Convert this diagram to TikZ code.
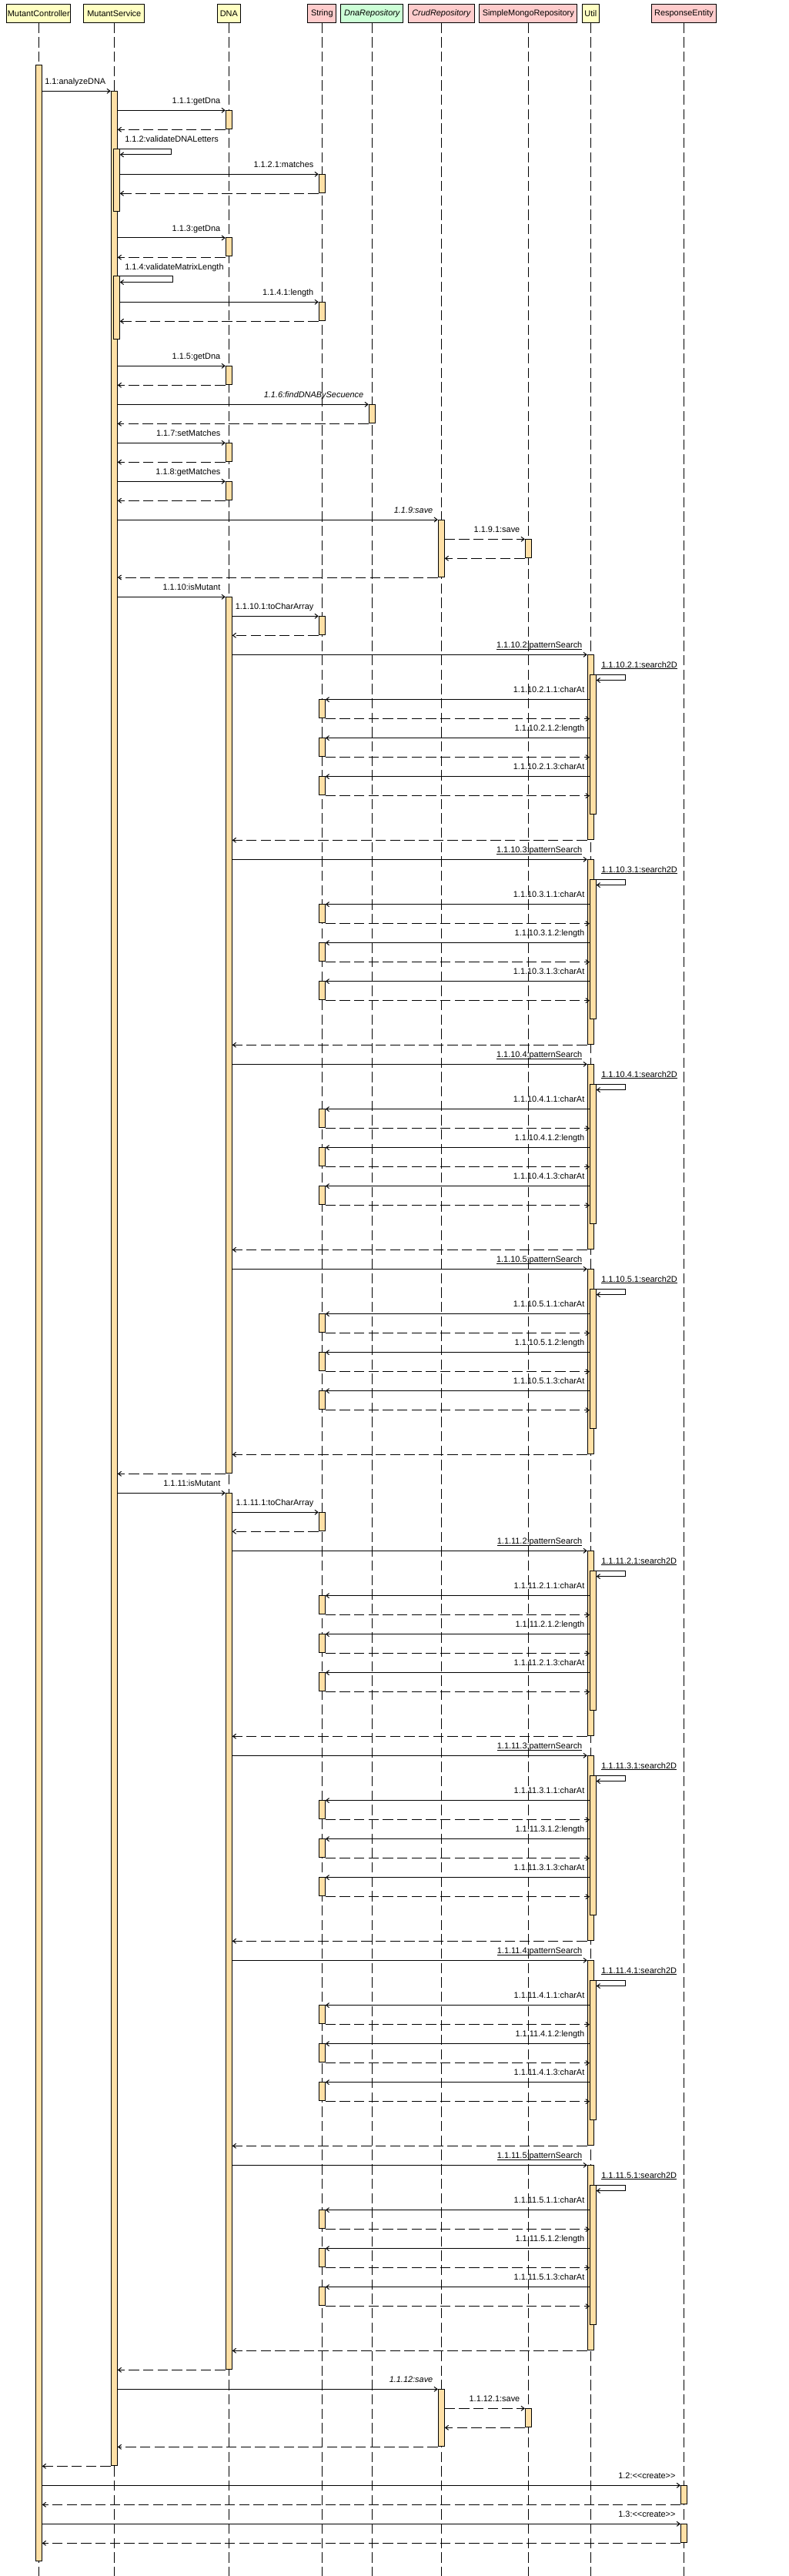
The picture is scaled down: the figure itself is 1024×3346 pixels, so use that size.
\documentclass[tikz,border=0pt]{standalone}
\usepackage{fontspec}
\setmainfont{Liberation Sans}
\usetikzlibrary{arrows.meta}

\definecolor{classyellow}{RGB}{255,255,194}
\definecolor{classpink}{RGB}{255,204,204}
\definecolor{classgreen}{RGB}{204,255,214}
\definecolor{actorange}{RGB}{255,224,166}

\tikzset{
  lane/.style={
    draw,
    fill=classyellow,
    minimum height=18pt,
    inner sep=0pt,
    font=\fontsize{8.2}{10}\selectfont
  },
  lifeline/.style={dash pattern=on 10pt off 4pt},
  activation/.style={draw, fill=actorange, minimum width=6pt, inner sep=0pt},
  callarrow/.style={-{Straight Barb[length=3pt,width=4.5pt]}},
  replyarrow/.style={callarrow, dash pattern=on 10pt off 4pt},
  msg/.style={font=\fontsize{8.2}{10}\selectfont, inner sep=0pt}
}

% activation bar: name, x, top, bottom
\newcommand{\actbar}[4]{\node[activation, minimum height={(#4-#3)*0.75pt}] (#1) at (#2,{(#3+#4)/2}) {};}
% call to the right: [style] from, to, y, label
\newcommand{\callR}[5][]{\draw[callarrow,#1] (#2.east |- 0,#4) -- (#3.west |- 0,#4) node[msg, anchor=base east, xshift=-4.5pt, yshift=6.5pt] {#5};}
% call to the left: from, to, y, label
\newcommand{\callL}[4]{\draw[callarrow] (#1.west |- 0,#3) node[msg, anchor=base east, xshift=-4.5pt, yshift=6.5pt] {#4} -- (#2.east |- 0,#3);}
% replies
\newcommand{\replyL}[3]{\draw[replyarrow] (#1.west |- 0,#3) -- (#2.east |- 0,#3);}
\newcommand{\replyR}[3]{\draw[replyarrow] (#1.east |- 0,#3) -- (#2.west |- 0,#3);}
% self call: from bar, nested bar, y, loop width, label
\newcommand{\selfcall}[5]{%
  \pgfmathsetmacro\yloopback{#3+7.6}
  \draw[callarrow] (#1.east |- 0,#3) node[msg, anchor=base west, xshift=6.8pt, yshift=6.5pt] {#5} -- ++(#4,0) |- (#2.east |- 0,\yloopback);}
% underlined label
\newcommand{\ulabel}[1]{\setbox0\hbox{#1}\rlap{\rule[-1.5pt]{\wd0}{0.75pt}}\box0}
% one patternSearch call: tag, number, y, dna bar
\newcommand{\patternblock}[4]{%
  \pgfmathsetmacro\ptop{#3}
  \pgfmathsetmacro\pend{#3+240}
  \pgfmathsetmacro\pnest{#3+25.7}
  \pgfmathsetmacro\pnestend{#3+207.3}
  \actbar{util#1}{767.3}{\ptop}{\pend}
  \actbar{loop#1}{770.3}{\pnest}{\pnestend}
  \callR{#4}{util#1}{\ptop}{\ulabel{#2:patternSearch}}
  \selfcall{util#1}{loop#1}{\pnest}{41}{\ulabel{#2.1:search2D}}
  \pgfmathsetmacro\pa{#3+58.3}
  \pgfmathsetmacro\pb{#3+108.3}
  \pgfmathsetmacro\pc{#3+158.3}
  \actbar{str#1a}{418.3}{\pa}{\pa+24}
  \actbar{str#1b}{418.3}{\pb}{\pb+24}
  \actbar{str#1c}{418.3}{\pc}{\pc+24}
  \callL{loop#1}{str#1a}{\pa}{#2.1.1:charAt}
  \replyR{str#1a}{loop#1}{\pa+25}
  \callL{loop#1}{str#1b}{\pb}{#2.1.2:length}
  \replyR{str#1b}{loop#1}{\pb+25}
  \callL{loop#1}{str#1c}{\pc}{#2.1.3:charAt}
  \replyR{str#1c}{loop#1}{\pc+25}
  \replyL{util#1}{#4}{\ptop+241}}

\begin{document}
\begin{tikzpicture}[x=0.75pt,y=-0.75pt,line width=0.75pt]
    \fill[white] (0,0) rectangle (1024,3346);
    \useasboundingbox (0,0) rectangle (1024,3346);

    % objects
    \node[lane, minimum width=62.25pt] (mc) at (50.3,17.3) {MutantController};
    \node[lane, minimum width=59.25pt] (ms) at (148.3,17.3) {MutantService};
    \node[lane, minimum width=22.5pt] (dna) at (297.3,17.3) {DNA};
    \node[lane, fill=classpink, minimum width=27.75pt] (str) at (418.3,17.3) {String};
    \node[lane, fill=classgreen, minimum width=60.75pt] (dnarepo) at (483.3,17.3) {\itshape DnaRepository};
    \node[lane, fill=classpink, minimum width=64.5pt] (crud) at (573.3,17.3) {\itshape CrudRepository};
    \node[lane, fill=classpink, minimum width=95.25pt] (mongo) at (686.3,17.3) {SimpleMongoRepository};
    \node[lane, minimum width=16.5pt] (util) at (767.3,17.3) {Util};
    \node[lane, fill=classpink, minimum width=63pt] (resp) at (888.5,17.3) {ResponseEntity};

    % lifelines
    \draw[lifeline] (mc.south) -- (mc.south |- 0,3346);
    \draw[lifeline] (ms.south) -- (ms.south |- 0,3346);
    \draw[lifeline] (dna.south) -- (dna.south |- 0,3346);
    \draw[lifeline] (str.south) -- (str.south |- 0,3346);
    \draw[lifeline] (dnarepo.south) -- (dnarepo.south |- 0,3346);
    \draw[lifeline] (crud.south) -- (crud.south |- 0,3346);
    \draw[lifeline] (mongo.south) -- (mongo.south |- 0,3346);
    \draw[lifeline] (util.south) -- (util.south |- 0,3346);
    \draw[lifeline] (resp.south) -- (resp.south |- 0,3346);

    % activations
    \actbar{mcbar}{50.3}{85}{3326.7}
    \actbar{msbar}{148.3}{118.3}{3202.3}
    \actbar{msloopA}{151.3}{193.3}{275}
    \actbar{msloopB}{151.3}{359}{441}
    \actbar{dnaA}{297.3}{143.3}{167.3}
    \actbar{dnaB}{297.3}{309}{333}
    \actbar{dnaC}{297.3}{475.3}{499.3}
    \actbar{dnaD}{297.3}{575.3}{599.3}
    \actbar{dnaE}{297.3}{625.3}{649.3}
    \actbar{dnaF}{297.3}{775.3}{1913.3}
    \actbar{dnaG}{297.3}{1939.3}{3077.3}
    \actbar{strA}{418.3}{226.3}{250.3}
    \actbar{strB}{418.3}{392.3}{416.3}
    \actbar{strC}{418.3}{800.3}{824.3}
    \actbar{strD}{418.3}{1964.3}{1988.3}
    \actbar{repoA}{483.3}{525.3}{549.3}
    \actbar{crudA}{573.3}{675}{749.3}
    \actbar{crudB}{573.3}{3103.3}{3177.3}
    \actbar{mongoA}{686.3}{700.3}{724.3}
    \actbar{mongoB}{686.3}{3128.3}{3152.3}
    \actbar{respA}{888.5}{3228.3}{3252.3}
    \actbar{respB}{888.5}{3278.3}{3302.3}

    % messages
    \callR{mcbar}{msbar}{118.3}{1.1:analyzeDNA}
    \callR{msbar}{dnaA}{143.3}{1.1.1:getDna}
    \replyL{dnaA}{msbar}{168.3}
    \selfcall{msbar}{msloopA}{193.3}{69.4}{1.1.2:validateDNALetters}
    \callR{msloopA}{strA}{226.3}{1.1.2.1:matches}
    \replyL{strA}{msloopA}{251.3}
    \callR{msbar}{dnaB}{309}{1.1.3:getDna}
    \replyL{dnaB}{msbar}{334.3}
    \selfcall{msbar}{msloopB}{359}{72}{1.1.4:validateMatrixLength}
    \callR{msloopB}{strB}{392.3}{1.1.4.1:length}
    \replyL{strB}{msloopB}{417.3}
    \callR{msbar}{dnaC}{475.3}{1.1.5:getDna}
    \replyL{dnaC}{msbar}{500.3}
    \callR{msbar}{repoA}{525.3}{\itshape 1.1.6:findDNABySecuence}
    \replyL{repoA}{msbar}{550.3}
    \callR{msbar}{dnaD}{575.3}{1.1.7:setMatches}
    \replyL{dnaD}{msbar}{600.3}
    \callR{msbar}{dnaE}{625.3}{1.1.8:getMatches}
    \replyL{dnaE}{msbar}{650.3}
    \callR{msbar}{crudA}{675}{\itshape 1.1.9:save}
    \callR[replyarrow]{crudA}{mongoA}{700.3}{1.1.9.1:save}
    \replyL{mongoA}{crudA}{725.3}
    \replyL{crudA}{msbar}{750}
    \callR{msbar}{dnaF}{775.3}{1.1.10:isMutant}
    \callR{dnaF}{strC}{800.3}{1.1.10.1:toCharArray}
    \replyL{strC}{dnaF}{825.3}
    \patternblock{a}{1.1.10.2}{850.3}{dnaF}
    \patternblock{b}{1.1.10.3}{1116.3}{dnaF}
    \patternblock{c}{1.1.10.4}{1382.3}{dnaF}
    \patternblock{d}{1.1.10.5}{1648.3}{dnaF}
    \replyL{dnaF}{msbar}{1914.3}
    \callR{msbar}{dnaG}{1939.3}{1.1.11:isMutant}
    \callR{dnaG}{strD}{1964.3}{1.1.11.1:toCharArray}
    \replyL{strD}{dnaG}{1989.3}
    \patternblock{e}{1.1.11.2}{2014.3}{dnaG}
    \patternblock{f}{1.1.11.3}{2280.3}{dnaG}
    \patternblock{g}{1.1.11.4}{2546.3}{dnaG}
    \patternblock{h}{1.1.11.5}{2812.3}{dnaG}
    \replyL{dnaG}{msbar}{3078.3}
    \callR{msbar}{crudB}{3103.3}{\itshape 1.1.12:save}
    \callR[replyarrow]{crudB}{mongoB}{3128.3}{1.1.12.1:save}
    \replyL{mongoB}{crudB}{3153.3}
    \replyL{crudB}{msbar}{3178.3}
    \replyL{msbar}{mcbar}{3203.3}
    \callR{mcbar}{respA}{3228.3}{1.2:{<}{<}create{>}{>}}
    \replyL{respA}{mcbar}{3253.3}
    \callR{mcbar}{respB}{3278.3}{1.3:{<}{<}create{>}{>}}
    \replyL{respB}{mcbar}{3303.3}
\end{tikzpicture}
\end{document}
